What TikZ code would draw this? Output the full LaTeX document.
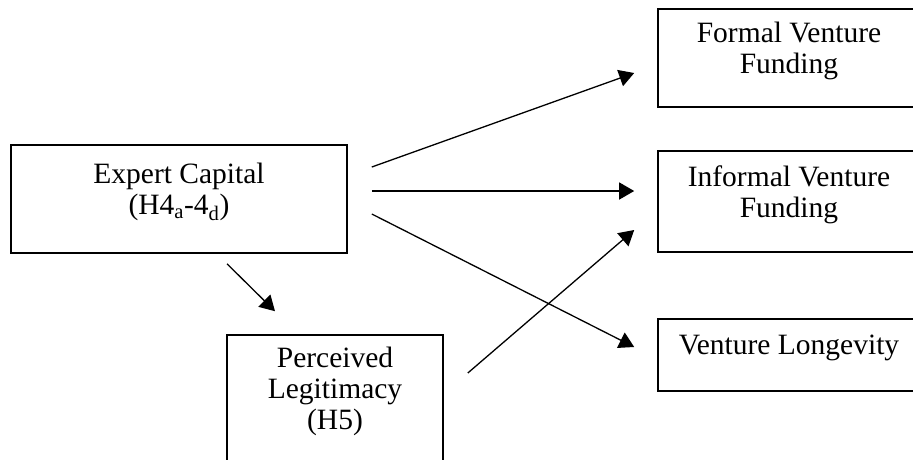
\documentclass[tikz,border=0pt]{standalone}
\usepackage{fontspec}
\setmainfont{Liberation Serif}
\usetikzlibrary{arrows.meta}

\begin{document}
\begin{tikzpicture}[
  x=1pt, y=1pt,
  font=\fontsize{29.5}{31}\selectfont,
  box/.style={draw=black, line width=1.6pt, rectangle, inner sep=0pt, align=center, text depth=20pt},
  arrow/.style={-{Triangle[length=15pt, width=17pt]}, line width=1.3pt, draw=black},
]
\clip (0,0) rectangle (913,-459);
\node[box, minimum width=336, minimum height=108] (expert) at (179,-199) {Expert Capital\\(H4\textsubscript{a}-4\textsubscript{d})};
\node[box, minimum width=216, minimum height=127] (legit) at (335,-398.5) {Perceived\\Legitimacy\\(H5)};
\node[box, minimum width=262, minimum height=98] (formal) at (789,-58) {Formal Venture\\Funding};
\node[box, minimum width=262, minimum height=101] (informal) at (789,-201.5) {Informal Venture\\Funding};
\node[box, minimum width=262, minimum height=72] (longev) at (789,-355) {Venture Longevity};

\draw[arrow] ([shift={(24,32)}]expert.east) -- ([shift={(-23,-15)}]formal.west);
\draw[arrow] ([shift={(24,8)}]expert.east) -- ([shift={(-23,10.5)}]informal.west);
\draw[arrow] ([shift={(24,-15)}]expert.east) -- ([shift={(-23,8)}]longev.west);
\draw[arrow] ([shift={(24,25.5)}]legit.east) -- ([shift={(-23,-28.5)}]informal.west);
\draw[arrow] ([shift={(48,-10)}]expert.south) -- ([shift={(-60,23)}]legit.north);
\end{tikzpicture}
\end{document}
